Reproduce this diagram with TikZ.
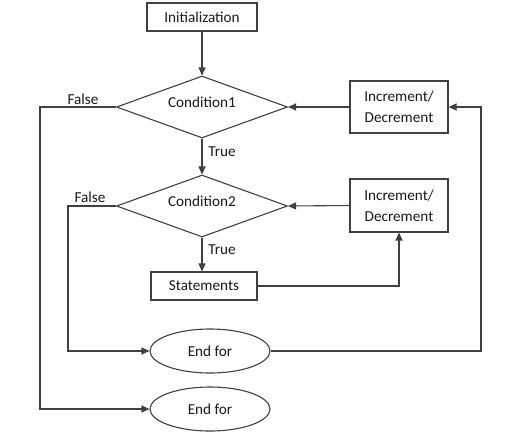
\documentclass[tikz,border=0pt]{standalone}
\usepackage{fontspec}
\setmainfont{Carlito}
\usetikzlibrary{shapes.geometric,arrows.meta}
\begin{document}
\begin{tikzpicture}[x=1pt,y=-1pt,
  every node/.style={font=\fontsize{15.2}{21}\selectfont, text=black!90},
  line/.style={draw=black!75, line width=1.1pt},
  arr/.style={line, -{Triangle[length=8pt,width=7pt]}},
  boxnode/.style={draw=black!75, line width=1.1pt, rectangle, inner sep=0pt, align=center},
  decision/.style={draw=black!75, line width=1.1pt, diamond, aspect=2.76, inner sep=0pt, minimum width=171pt, minimum height=62pt},
  terminal/.style={draw=black!75, line width=1.1pt, ellipse, inner sep=0pt, minimum width=120pt, minimum height=44pt},
  lbl/.style={inner sep=0pt}]
\useasboundingbox (0,0) rectangle (521,432);
\node[boxnode, minimum width=110pt, minimum height=28pt] (init) at (202,17) {Initialization};
\node[decision] (c1) at (202,107) {};
\node at (202,102) (c1t) {Condition1};
\node[boxnode, minimum width=98pt, minimum height=52pt] (inc1) at (399,107) {Increment/\\Decrement};
\node[decision] (c2) at (202,206) {};
\node at (202,201) (c2t) {Condition2};
\node[boxnode, minimum width=98pt, minimum height=53pt] (inc2) at (399,205.5) {Increment/\\Decrement};
\node[boxnode, minimum width=106pt, minimum height=28pt] (st) at (204,286) {Statements};
\node[terminal] (e1) at (210,351) {End for};
\node[terminal] (e2) at (210,409) {End for};
\node[lbl] (f1) at (83,99) {False};
\node[lbl] (f2) at (90,197) {False};
\node[lbl] (t1) at (222,152) {True};
\node[lbl] (t2) at (222,250) {True};
\coordinate (lA) at (40,107);
\coordinate (lB) at (68,206);
\coordinate (rA) at (481,351);
\draw[arr] (init) -- (c1.north);
\draw[arr] (inc1.west) -- (c1.east);
\draw[arr] (c1.south) -- (c2.north);
\draw[arr] (inc2.west) -- (c2.east);
\draw[arr] (c2.south) -- (c2.south |- st.north);
\draw[arr] (st.east) -| (inc2.south);
\draw[arr] (c1.west) -- (lA) |- (e2.west);
\draw[arr] (c2.west) -- (lB) |- (e1.west);
\draw[arr] (e1.east) -- (rA) |- (inc1.east);
\end{tikzpicture}
\end{document}
